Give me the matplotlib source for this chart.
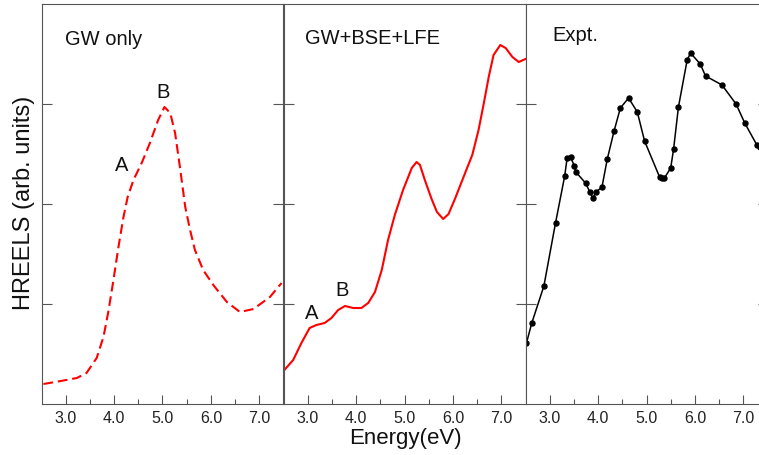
import matplotlib
matplotlib.use("Agg")
import matplotlib.pyplot as plt
from matplotlib.ticker import FixedLocator

plt.rcParams['font.family'] = ['Liberation Sans', 'DejaVu Sans']
plt.rcParams['lines.scale_dashes'] = False

# GW only (dashed red)
gw_e = [2.54, 2.90, 3.23, 3.43, 3.64, 3.78, 3.88, 3.98, 4.09, 4.19, 4.28, 4.40,
        4.57, 4.74, 4.91, 5.04, 5.16, 5.26, 5.36, 5.47, 5.57, 5.67, 5.84, 6.05,
        6.33, 6.60, 6.88, 7.22, 7.46]
gw_i = [0.20, 0.23, 0.26, 0.31, 0.46, 0.67, 0.92, 1.22, 1.57, 1.86, 2.07, 2.24,
        2.41, 2.61, 2.84, 2.97, 2.91, 2.71, 2.37, 1.97, 1.74, 1.54, 1.34, 1.19,
        1.02, 0.92, 0.95, 1.07, 1.21]

# GW+BSE+LFE (solid red)
bse_e = [2.50, 2.70, 2.87, 3.04, 3.18, 3.35, 3.49, 3.63, 3.77, 3.94, 4.11, 4.25,
         4.39, 4.53, 4.66, 4.80, 4.97, 5.15, 5.25, 5.32, 5.42, 5.56, 5.67, 5.80,
         5.91, 6.05, 6.22, 6.40, 6.53, 6.64, 6.74, 6.84, 6.98, 7.09, 7.23, 7.36,
         7.50]
bse_i = [0.33, 0.44, 0.61, 0.76, 0.79, 0.81, 0.86, 0.94, 0.98, 0.96, 0.96, 1.01,
         1.12, 1.34, 1.64, 1.89, 2.14, 2.36, 2.42, 2.39, 2.24, 2.05, 1.92, 1.85,
         1.90, 2.06, 2.27, 2.49, 2.74, 3.01, 3.27, 3.49, 3.59, 3.56, 3.47, 3.42,
         3.45]

# Experiment (black line with dots)
exp_e = [2.52, 2.63, 2.88, 3.12, 3.31, 3.36, 3.43, 3.51, 3.54, 3.74, 3.83, 3.89,
         3.96, 4.08, 4.19, 4.33, 4.46, 4.63, 4.81, 4.96, 5.27, 5.32, 5.37, 5.50,
         5.56, 5.66, 5.84, 5.91, 6.11, 6.22, 6.56, 6.85, 7.03, 7.28, 7.34]
exp_i = [0.61, 0.81, 1.18, 1.81, 2.28, 2.46, 2.47, 2.38, 2.32, 2.21, 2.12, 2.06,
         2.12, 2.17, 2.45, 2.73, 2.96, 3.06, 2.92, 2.63, 2.27, 2.26, 2.26, 2.36,
         2.55, 2.97, 3.44, 3.51, 3.40, 3.28, 3.19, 3.00, 2.81, 2.59, 2.57]

panel_titles = ["GW only", "GW+BSE+LFE", "Expt."]
xtick_vals = [3.0, 4.0, 5.0, 6.0, 7.0]
xtick_labels = ["3.0", "4.0", "5.0", "6.0", "7.0"]

W, H = 759, 455
fig = plt.figure(figsize=(W / 100, H / 100), dpi=100)

left_px, bottom_px, pw, ph = 41.5, 51.0, 242.0, 400.0
spine_col = "#555555"
axes = []
for k in range(3):
    ax = fig.add_axes([(left_px + k * pw) / W, bottom_px / H, pw / W, ph / H])
    ax.set_xlim(2.5, 7.5)
    ax.set_ylim(0, 4)
    for s in ax.spines.values():
        s.set_color(spine_col)
        s.set_linewidth(0.8)
    ax.xaxis.set_major_locator(FixedLocator(xtick_vals))
    ax.set_xticklabels(xtick_labels)
    ax.xaxis.set_minor_locator(FixedLocator([3.5, 4.5, 5.5, 6.5]))
    ax.yaxis.set_major_locator(FixedLocator([1, 2, 3]))
    ax.set_yticklabels([])
    ax.tick_params(axis='x', which='major', direction='in', length=6.5,
                   width=0.8, color=spine_col, labelsize=11.5, pad=5,
                   labelcolor="#222222", top=False)
    ax.tick_params(axis='x', which='minor', direction='in', length=3.6,
                   width=0.8, color=spine_col, top=False)
    ax.tick_params(axis='y', which='major', direction='in', length=7,
                   width=0.8, color=spine_col, left=True, right=True)
    axes.append(ax)

ax1, ax2, ax3 = axes
ax1.plot(gw_e, gw_i, color="red", lw=1.5, linestyle=(0, (7, 3.5)),
         solid_joinstyle="round")
ax2.plot(bse_e, bse_i, color="red", lw=1.5, solid_joinstyle="round")
ax3.plot(exp_e, exp_i, color="black", lw=1.1, marker="o", markersize=3.6)

txt_kw = dict(fontsize=14.5, color="#111111", va="baseline")
ax1.text(2.99, 3.59, panel_titles[0], ha="left", **txt_kw)
ax2.text(2.945, 3.60, panel_titles[1], ha="left", **txt_kw)
ax3.text(3.06, 3.63, panel_titles[2], ha="left", **txt_kw)

ax1.text(4.16, 2.33, "A", ha="center", **txt_kw)
ax1.text(5.02, 3.06, "B", ha="center", **txt_kw)
ax2.text(3.08, 0.85, "A", ha="center", **txt_kw)
ax2.text(3.72, 1.08, "B", ha="center", **txt_kw)

fig.text(24 / W, (H - 203) / H, "HREELS (arb. units)", rotation=90,
         ha="center", va="center", fontsize=17, color="#111111")
fig.text(405.5 / W, (H - 444) / H, "Energy(eV)", ha="center", va="baseline",
         fontsize=16, color="#111111")

fig.savefig("out.png", dpi=100, facecolor="white")
